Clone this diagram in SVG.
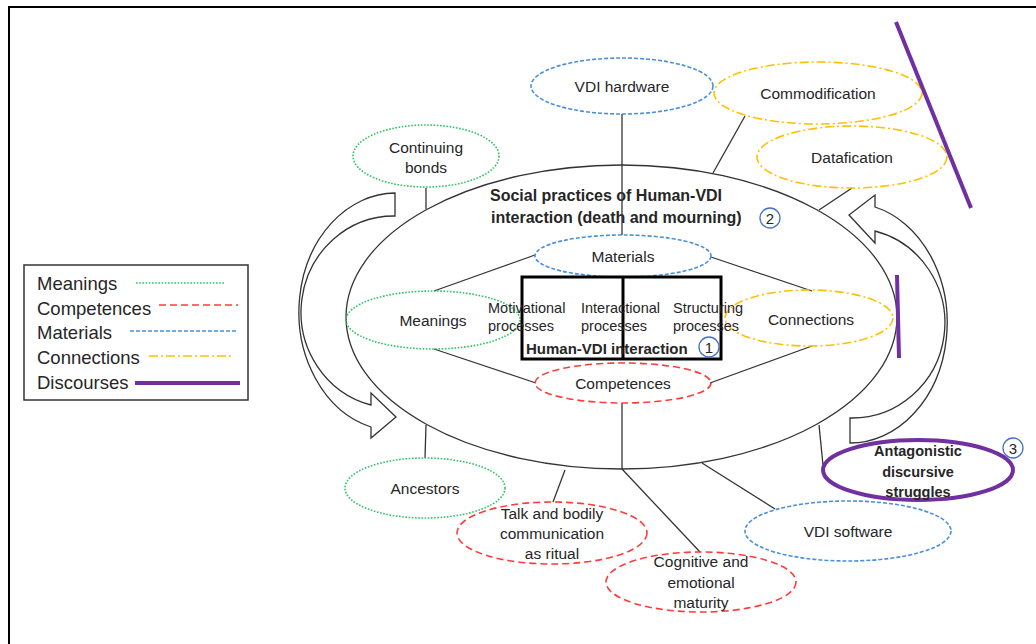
<svg xmlns="http://www.w3.org/2000/svg" width="1036" height="644" viewBox="0 0 1036 644">
  <style>
    text { font-family: "Liberation Sans", Arial, sans-serif; fill: #262626; }
    .lbl { font-size: 15.5px; text-anchor: middle; dominant-baseline: central; }
    .title { font-size: 16px; font-weight: bold; dominant-baseline: central; }
    .box { font-size: 14.5px; }
    .bold { font-weight: bold; }
    .leg { font-size: 18.5px; dominant-baseline: central; }
    .num { font-size: 15px; text-anchor: middle; dominant-baseline: central; }
    .meaning { fill: none; stroke: #2EC466; stroke-width: 1.6; stroke-dasharray: 1.6 1.6; }
    .competence { fill: none; stroke: #FF3B3B; stroke-width: 1.6; stroke-dasharray: 7 4; }
    .material { fill: none; stroke: #4A90D9; stroke-width: 1.6; stroke-dasharray: 4 2; }
    .connection { fill: none; stroke: #FFC000; stroke-width: 1.6; stroke-dasharray: 9 3 2 3; }
    .discourse { fill: none; stroke: #7030A0; stroke-width: 4; }
    .link { stroke: #333; stroke-width: 1.3; fill: none; }
    .bigarrow { fill: #fff; stroke: #333; stroke-width: 1.3; }
    .badge { fill: #fff; stroke: #4472C4; stroke-width: 1.3; }
  </style>

  <!-- frame -->
  <path d="M9,644 V7 H1036" fill="none" stroke="#000" stroke-width="2"/>

  <!-- legend -->
  <g id="legend">
    <rect x="24" y="265" width="224" height="135" fill="#fff" stroke="#333" stroke-width="1.5"/>
    <text class="leg" x="37" y="283">Meanings</text>
    <line class="meaning" x1="136" y1="283" x2="224" y2="283"/>
    <text class="leg" x="37" y="308">Competences</text>
    <line class="competence" x1="159" y1="305" x2="238" y2="305"/>
    <text class="leg" x="37" y="332">Materials</text>
    <line class="material" x1="130" y1="331" x2="236" y2="331"/>
    <text class="leg" x="37" y="357">Connections</text>
    <line class="connection" x1="149" y1="356" x2="233" y2="356"/>
    <text class="leg" x="37" y="382">Discourses</text>
    <line class="discourse" x1="135" y1="383" x2="240" y2="383"/>
  </g>

  <!-- social practice ellipse -->
  <g id="social-practices">
    <ellipse cx="621.5" cy="317" rx="275.5" ry="152" fill="none" stroke="#333" stroke-width="1.3"/>
    <text class="title" x="490" y="195">Social practices of Human-VDI</text>
    <text class="title" x="491" y="217">interaction (death and mourning)</text>
    <circle class="badge" cx="770" cy="218" r="10"/>
    <text class="num" x="770" y="218">2</text>
  </g>

  <!-- connectors -->
  <g id="connectors">
    <line class="link" x1="426" y1="188" x2="426" y2="209"/>
    <line class="link" x1="622" y1="114" x2="622" y2="235"/>
    <line class="link" x1="745" y1="116" x2="713" y2="173"/>
    <line class="link" x1="852" y1="188" x2="819" y2="210"/>
    <line class="link" x1="434" y1="291" x2="535" y2="255"/>
    <line class="link" x1="711" y1="257" x2="812" y2="291"/>
    <line class="link" x1="434" y1="349" x2="536" y2="383"/>
    <line class="link" x1="710" y1="383" x2="812" y2="346"/>
    <line class="link" x1="622" y1="403" x2="622" y2="469"/>
    <line class="link" x1="622" y1="469" x2="700" y2="552"/>
    <line class="link" x1="426" y1="425" x2="425" y2="458"/>
    <line class="link" x1="565" y1="470" x2="553" y2="502"/>
    <line class="link" x1="702" y1="463" x2="775" y2="509"/>
    <line class="link" x1="819" y1="425" x2="823" y2="465"/>
  </g>

  <!-- curved block arrows -->
  <g id="arrow-left">
    <path class="bigarrow" d="M395,193 A97,119 0 0 0 371,427 L371,438 L396,417 L371,393 L371,405 A93,96 0 0 1 395,216 Z"/>
  </g>
  <g id="arrow-right">
    <path class="bigarrow" d="M850,443 A97,120 0 0 0 875,207 L875,195 L849,215 L875,243 L875,231 A93,95 0 0 1 850,418 Z"/>
  </g>

  <!-- outer elements -->
  <g id="continuing-bonds">
    <ellipse class="meaning" cx="426" cy="156" rx="73" ry="31"/>
    <text class="lbl" x="426" y="147">Continuing</text>
    <text class="lbl" x="426" y="167">bonds</text>
  </g>
  <g id="vdi-hardware">
    <ellipse class="material" cx="622" cy="86" rx="91" ry="28"/>
    <text class="lbl" x="622" y="86">VDI hardware</text>
  </g>
  <g id="commodification">
    <ellipse class="connection" cx="818" cy="93" rx="104" ry="31"/>
    <text class="lbl" x="818" y="93">Commodification</text>
  </g>
  <g id="datafication">
    <ellipse class="connection" cx="852" cy="157" rx="95" ry="31"/>
    <text class="lbl" x="852" y="157">Datafication</text>
  </g>
  <g id="discourse-top">
    <line class="discourse" x1="896" y1="22" x2="971" y2="208"/>
  </g>
  <g id="discourse-right">
    <line class="discourse" x1="897" y1="275" x2="899" y2="358"/>
  </g>
  <g id="ancestors">
    <ellipse class="meaning" cx="425" cy="488" rx="80" ry="30"/>
    <text class="lbl" x="425" y="488">Ancestors</text>
  </g>
  <g id="talk-ritual">
    <ellipse class="competence" cx="552" cy="533" rx="95" ry="31"/>
    <text class="lbl" x="552" y="513">Talk and bodily</text>
    <text class="lbl" x="552" y="533">communication</text>
    <text class="lbl" x="552" y="553">as ritual</text>
  </g>
  <g id="cognitive-maturity">
    <ellipse class="competence" cx="701" cy="582" rx="95" ry="30"/>
    <text class="lbl" x="701" y="561">Cognitive and</text>
    <text class="lbl" x="701" y="582">emotional</text>
    <text class="lbl" x="701" y="602">maturity</text>
  </g>
  <g id="vdi-software">
    <ellipse class="material" cx="848" cy="531" rx="103" ry="30"/>
    <text class="lbl" x="848" y="531">VDI software</text>
  </g>
  <g id="antagonistic-struggles">
    <ellipse class="discourse" cx="918" cy="470" rx="95" ry="30" stroke-width="3.5"/>
    <text class="lbl bold" x="918" y="451" style="font-size:14.5px">Antagonistic</text>
    <text class="lbl bold" x="918" y="472" style="font-size:14.5px">discursive</text>
    <text class="lbl bold" x="918" y="492" style="font-size:14.5px">struggles</text>
    <circle class="badge" cx="1013" cy="448" r="10"/>
    <text class="num" x="1013" y="448">3</text>
  </g>

  <!-- inner elements -->
  <g id="materials">
    <ellipse class="material" cx="623" cy="256" rx="88" ry="21"/>
    <text class="lbl" x="623" y="256">Materials</text>
  </g>
  <g id="meanings">
    <ellipse class="meaning" cx="433" cy="320" rx="87" ry="29"/>
    <text class="lbl" x="433" y="320">Meanings</text>
  </g>
  <g id="connections">
    <ellipse class="connection" cx="809" cy="318" rx="84" ry="28"/>
    <text class="lbl" x="811" y="319">Connections</text>
  </g>
  <g id="competences">
    <ellipse class="competence" cx="623" cy="383" rx="88" ry="20"/>
    <text class="lbl" x="623" y="383">Competences</text>
  </g>

  <g id="human-vdi-interaction">
    <rect x="522" y="277" width="199" height="82" fill="none" stroke="#000" stroke-width="3"/>
    <line x1="623" y1="277" x2="623" y2="359" stroke="#000" stroke-width="3"/>
    <text class="box" x="488" y="313">Motivational</text>
    <text class="box" x="488" y="331">processes</text>
    <text class="box" x="581" y="313">Interactional</text>
    <text class="box" x="581" y="331">processes</text>
    <text class="box" x="673" y="313">Structuring</text>
    <text class="box" x="673" y="331">processes</text>
    <text class="bold" x="526" y="354" style="font-size:15px">Human-VDI interaction</text>
    <circle class="badge" cx="709" cy="347" r="10"/>
    <text class="num" x="709" y="347">1</text>
  </g>
</svg>
